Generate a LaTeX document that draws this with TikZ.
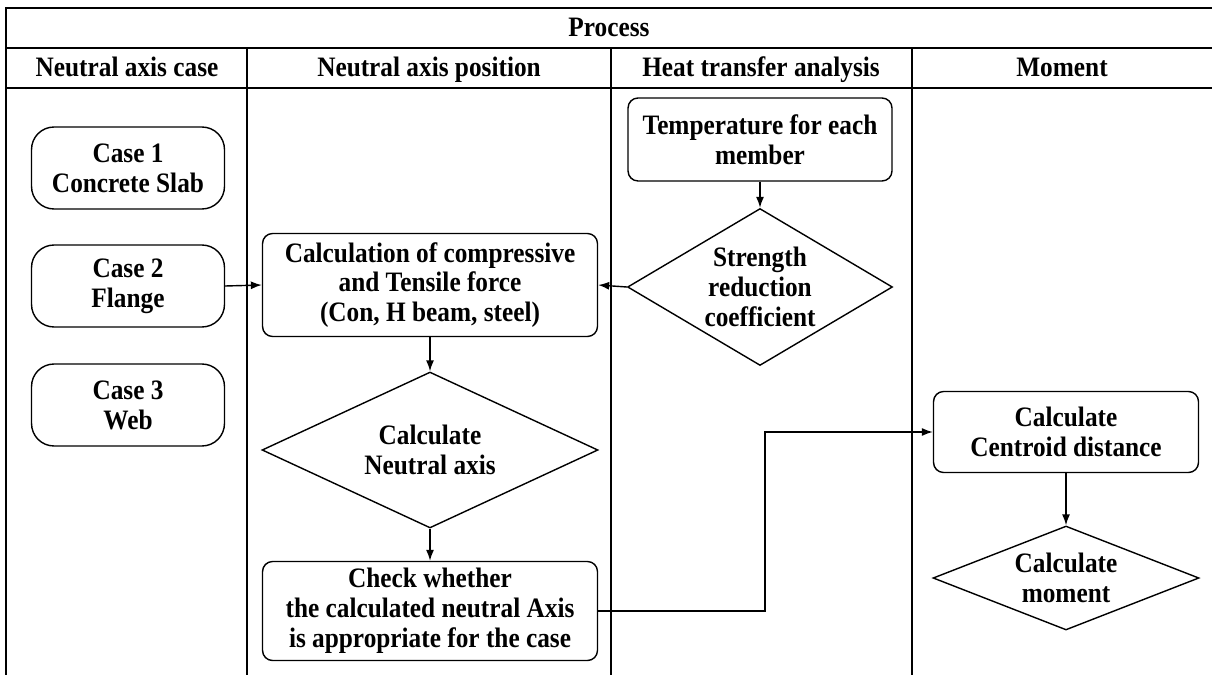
\documentclass[tikz,border=0pt]{standalone}
\usepackage{fontspec}
\setmainfont{Liberation Serif}[FakeStretch=0.9]
\usetikzlibrary{shapes.geometric,arrows.meta}

\tikzset{
  casebox/.style={draw, line width=0.8pt, rounded corners=0.45cm, minimum width=3.86cm, minimum height=1.64cm, align=center},
  procbox/.style={draw, line width=0.8pt, rounded corners=0.2cm, align=center},
  decision/.style={draw, line width=0.8pt, diamond, inner sep=0pt, align=center},
  flow/.style={-{Latex[length=2.2mm,width=1.6mm]}, line width=0.8pt},
  lane/.style={line width=0.6pt},
  heading/.style={anchor=base}
}

\begin{document}
\begin{tikzpicture}[x=0.02cm, y=-0.02cm, font=\bfseries\fontsize{16}{17}\selectfont]
                \useasboundingbox (0,0) rectangle (1212,675);
                % Swimlane frame
                \draw[lane] (6,675) -- (6,8) -- (1212,8);
                \draw[lane] (6,48) -- (1212,48);
                \draw[lane] (6,88) -- (1212,88);
                \foreach \x in {247,611,912}
                    \draw[lane] (\x,48) -- (\x,675);
                
                % Headers
                \node[heading] (title) at (609,37) {Process};
                \node[heading] (hcase) at (127,77) {Neutral axis case};
                \node[heading] (hpos) at (429,77) {Neutral axis position};
                \node[heading] (hheat) at (761,77) {Heat transfer analysis};
                \node[heading] (hmom) at (1062,77) {Moment};
                
                % Neutral axis case lane
                \node[casebox] (case1) at (128,168) {Case 1\\Concrete Slab};
                \node[casebox] (case2) at (128,286) {Case 2\\Flange};
                \node[casebox] (case3) at (128,405) {Case 3\\Web};
                
                % Neutral axis position lane
                \node[procbox, minimum width=6.7cm, minimum height=2.06cm] (calc) at (430,285) {Calculation of compressive\\and Tensile force\\(Con, H beam, steel)};
                \node[decision, aspect=2.15, minimum width=6.72cm, minimum height=3.12cm] (neutral) at (430,450) {Calculate\\Neutral axis};
                \node[procbox, minimum width=6.7cm, minimum height=1.98cm] (check) at (430,611) {Check whether\\the calculated neutral Axis\\is appropriate for the case};
                
                % Heat transfer analysis lane
                \node[procbox, minimum width=5.28cm, minimum height=1.66cm] (temp) at (760,139.5) {Temperature for each\\member};
                \node[decision, aspect=1.69, minimum width=5.3cm, minimum height=3.14cm] (strength) at (760,287) {Strength\\reduction\\coefficient};
                
                % Moment lane
                \node[procbox, minimum width=5.3cm, minimum height=1.62cm] (centroid) at (1066,432) {Calculate\\Centroid distance};
                \node[decision, aspect=2.56, minimum width=5.32cm, minimum height=2.08cm] (moment) at (1066,578) {Calculate\\moment};
                
                % Connectors
                \draw[flow] (case2.east) -- (calc.west);
                \draw[flow] (temp.south) -- (strength.north);
                \draw[flow] (strength.west) -- (calc.east);
                \draw[flow] (calc.south) -- (neutral.north);
                \draw[flow] (neutral.south) -- (check.north);
                \draw[flow] (check.east) -- ++(167,0) |- (centroid.west);
                \draw[flow] (centroid.south) -- (moment.north);
            \end{tikzpicture}
\end{document}
